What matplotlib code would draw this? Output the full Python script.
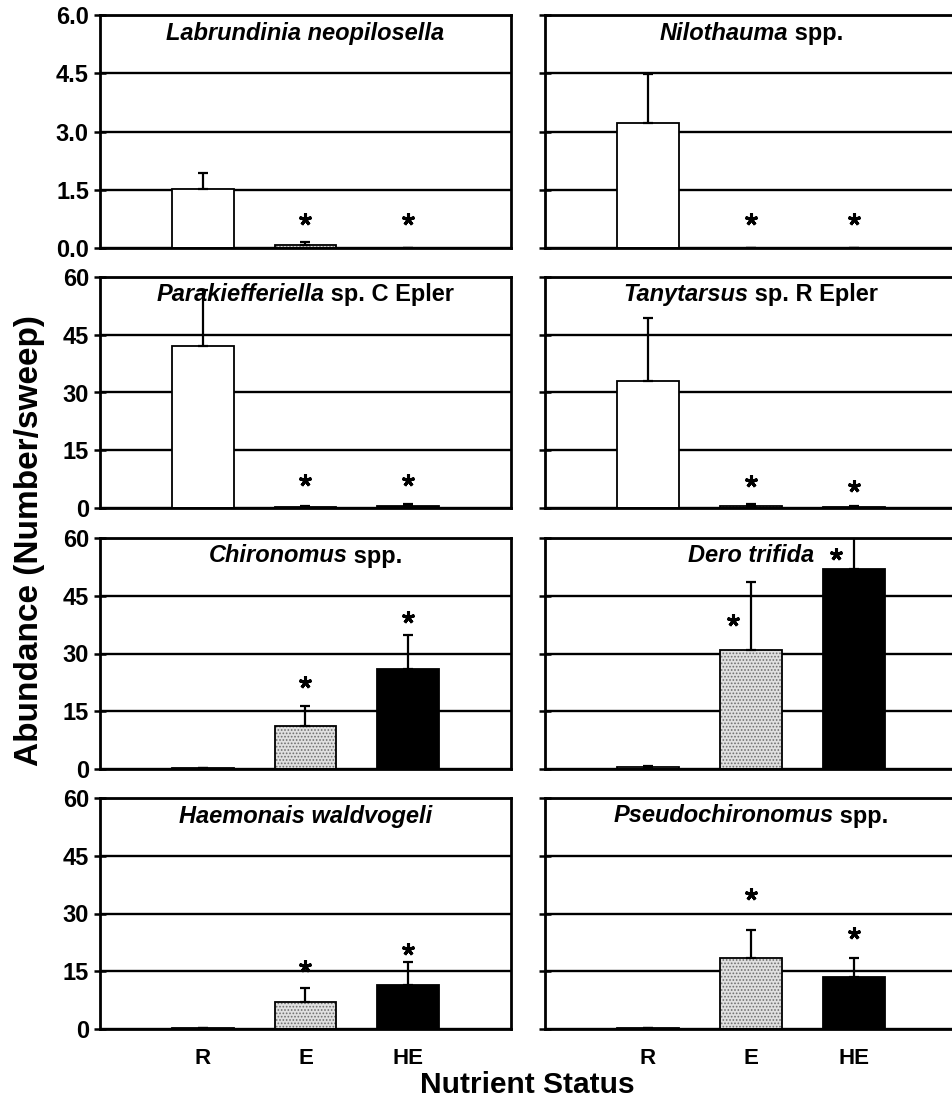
import matplotlib
matplotlib.use("Agg")
import matplotlib.pyplot as plt
import numpy as np

plt.rcParams['font.family'] = ['Liberation Sans', 'DejaVu Sans']
plt.rcParams['font.weight'] = 'bold'
plt.rcParams['hatch.linewidth'] = 0.8

# ---------------- data ----------------
categories = ['R', 'E', 'HE']

labr_mean = [1.53, 0.08, 0.0]
labr_err = [0.39, 0.08, 0.0]
labr_star = [None, 0.75, 0.75]

nilo_mean = [3.23, 0.0, 0.0]
nilo_err = [1.25, 0.0, 0.0]
nilo_star = [None, 0.75, 0.75]

para_mean = [42.0, 0.3, 0.4]
para_err = [14.5, 0.3, 0.6]
para_star = [None, 7.2, 7.2]

tany_mean = [32.9, 0.5, 0.2]
tany_err = [16.4, 0.6, 0.4]
tany_star = [None, 7.0, 5.7]

chir_mean = [0.2, 11.2, 26.1]
chir_err = [0.0, 5.1, 8.7]
chir_star = [None, 22.5, 39.5]

dero_mean = [0.5, 31.0, 52.0]
dero_err = [0.2, 17.5, 11.0]
dero_star = [None, 38.6, 55.8]

haem_mean = [0.15, 7.1, 11.5]
haem_err = [0.0, 3.5, 6.0]
haem_star = [None, 16.3, 20.7]

pseu_mean = [0.3, 18.4, 13.4]
pseu_err = [0.0, 7.2, 5.0]
pseu_star = [None, 35.0, 25.0]

titles = [
    [('Labrundinia neopilosella', 'italic')],
    [('Nilothauma', 'italic'), (' spp.', 'normal')],
    [('Parakiefferiella', 'italic'), (' sp. C Epler', 'normal')],
    [('Tanytarsus', 'italic'), (' sp. R Epler', 'normal')],
    [('Chironomus', 'italic'), (' spp.', 'normal')],
    [('Dero trifida', 'italic')],
    [('Haemonais waldvogeli', 'italic')],
    [('Pseudochironomus', 'italic'), (' spp.', 'normal')],
]
means = [labr_mean, nilo_mean, para_mean, tany_mean,
         chir_mean, dero_mean, haem_mean, pseu_mean]
errs = [labr_err, nilo_err, para_err, tany_err,
        chir_err, dero_err, haem_err, pseu_err]
stars = [labr_star, nilo_star, para_star, tany_star,
         chir_star, dero_star, haem_star, pseu_star]

small_ticks = [0.0, 1.5, 3.0, 4.5, 6.0]
big_ticks = [0, 15, 30, 45, 60]

# ---------------- style / layout ----------------
W, H = 953, 1102
fig = plt.figure(figsize=(W / 100, H / 100), dpi=100)

rows_px = [(15, 248), (277, 508), (538, 769), (798, 1029)]
cols_px = [(100, 511), (545, 957)]
star_dx = {5: -0.17}  # Dero trifida stars are set to the left of the bars

bar_w = 0.6
xpos = np.arange(len(categories))

axes = []
title_items = []
for i in range(8):
    r, c = divmod(i, 2)
    t, b = rows_px[r]
    l, rr = cols_px[c]
    ax = fig.add_axes([l / W, 1 - b / H, (rr - l) / W, (b - t) / H])
    axes.append(ax)

    ticks = small_ticks if i < 2 else big_ticks
    ax.set_ylim(ticks[0], ticks[-1])
    ax.set_xlim(-1, 3)
    ax.set_yticks(ticks)
    if c == 0:
        if i < 2:
            ax.set_yticklabels(['%.1f' % v for v in ticks])
        else:
            ax.set_yticklabels(['%d' % v for v in ticks])
    else:
        ax.set_yticklabels([])
    ax.tick_params(axis='y', direction='inout', length=8, width=1.8,
                   labelsize=17, pad=4)
    ax.set_axisbelow(True)
    ax.yaxis.grid(True, color='black', linewidth=1.7)
    for s in ax.spines.values():
        s.set_linewidth(2.0)
        s.set_color('black')

    if r == 3:
        ax.set_xticks(xpos)
        ax.set_xticklabels(categories, fontsize=16, fontweight='bold')
        ax.tick_params(axis='x', length=0, pad=14)
    else:
        ax.set_xticks([])

    m = means[i]
    e = errs[i]
    # R bar (white), E bar (stippled grey), HE bar (black)
    ax.bar(xpos[0], m[0], width=bar_w, color='white', edgecolor='black',
           linewidth=1.3, zorder=2)
    ax.bar(xpos[1], m[1], width=bar_w, color='#e0e0e0', edgecolor='#6f6f6f',
           hatch='.....', linewidth=0, zorder=2)
    ax.bar(xpos[1], m[1], width=bar_w, fill=False, edgecolor='black',
           linewidth=1.3, zorder=2.1)
    ax.bar(xpos[2], m[2], width=bar_w, color='black', edgecolor='black',
           linewidth=1.3, zorder=2)

    ax.errorbar(xpos, m, yerr=[np.zeros(3), e], fmt='none', ecolor='black',
                elinewidth=1.6, capsize=3.8, capthick=1.6, zorder=3)

    dx = star_dx.get(i, 0.0)
    sx = [xpos[k] + dx for k in range(3) if stars[i][k] is not None]
    sy = [stars[i][k] for k in range(3) if stars[i][k] is not None]
    ax.plot(sx, sy, linestyle='none', marker=(5, 2, 0), markersize=9,
            markeredgewidth=2.2, color='black', zorder=4, clip_on=False)

    texts = []
    for s, style in titles[i]:
        tx = ax.text(0, 1 - 18 / (b - t), s, transform=ax.transAxes,
                     fontsize=17, fontweight='bold', style=style,
                     ha='left', va='center', zorder=5)
        texts.append(tx)
    title_items.append((ax, texts, l, rr))

# center the mixed-style titles within each panel
fig.canvas.draw()
renderer = fig.canvas.get_renderer()
for ax, texts, l, rr in title_items:
    widths = [tx.get_window_extent(renderer).width for tx in texts]
    total = sum(widths)
    box = ax.get_window_extent(renderer)
    start = box.x0 + box.width / 2 - total / 2
    for tx, w in zip(texts, widths):
        tx.set_x((start - box.x0) / box.width)
        start += w

fig.text(30 / W, 1 - 541 / H, 'Abundance (Number/sweep)', rotation=90,
         ha='center', va='center', fontsize=24, fontweight='bold')
fig.text(527 / W, 1 - 1085 / H, 'Nutrient Status', ha='center', va='center',
         fontsize=21.5, fontweight='bold')

fig.savefig('out.png', dpi=100, facecolor='white')
